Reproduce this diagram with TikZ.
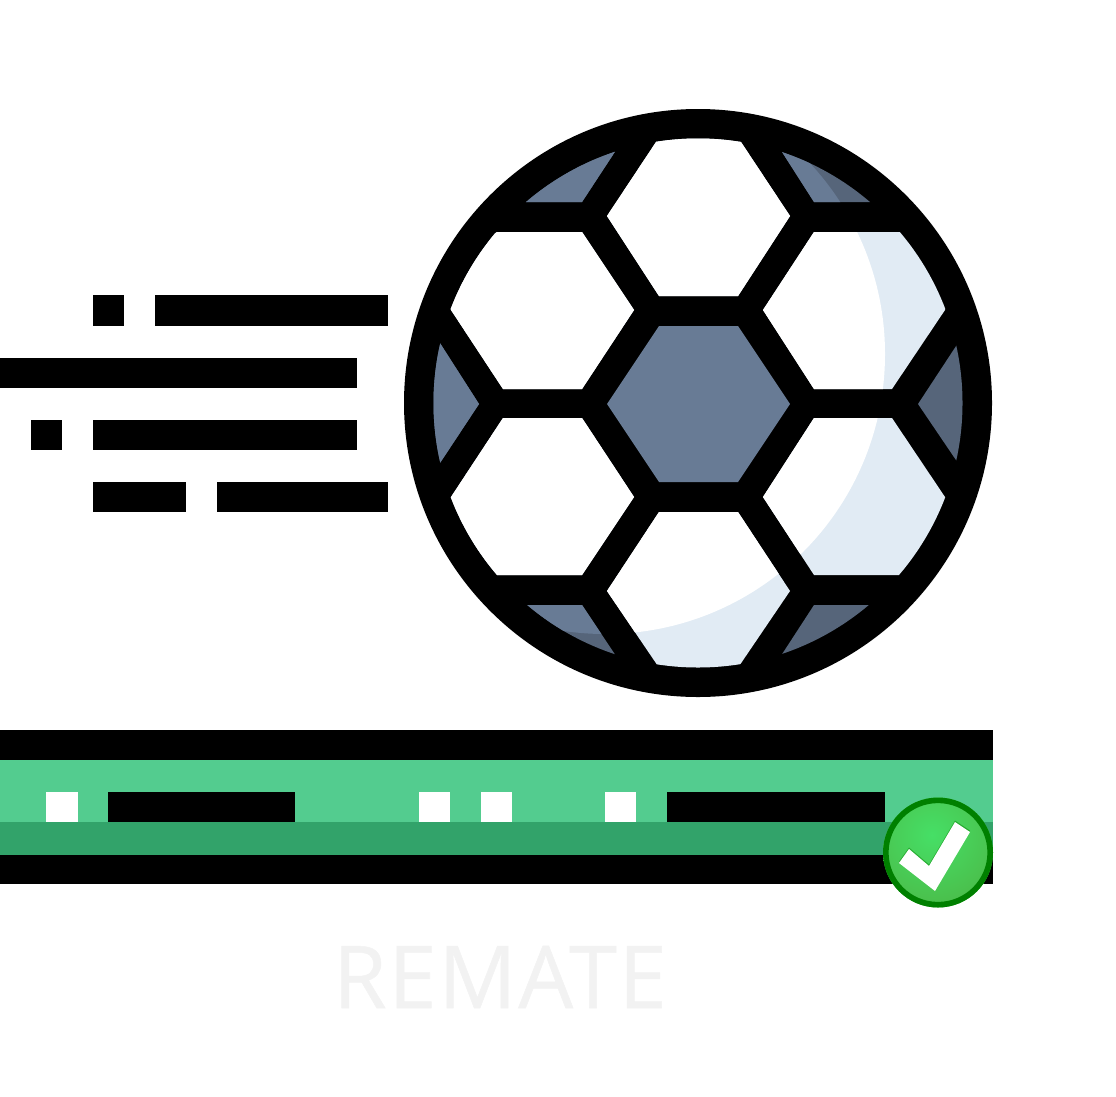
\documentclass[tikz,border=0pt]{standalone}
\usepackage{fontspec}
\setmainfont{Open Sans}
\newfontfamily\capfont[FakeBold=0.6,LetterSpace=2]{Open Sans}
\definecolor{ballblue}{HTML}{687B95}
\definecolor{balldark}{HTML}{56657A}
\definecolor{ballshade}{HTML}{E1EBF4}
\definecolor{bargreen}{HTML}{53CC8F}
\definecolor{bardark}{HTML}{32A36A}
\definecolor{badgeedge}{HTML}{008000}
\definecolor{badgein}{HTML}{46DF66}
\definecolor{badgeout}{HTML}{4DAE3E}
\definecolor{faint}{HTML}{F2F2F2}
\newcommand{\hexes}{%
  (607,216)--(664,130)--(733,130)--(790,216)--(738,296)--(659,296)--cycle
  (634,310)--(582,389)--(503,389)--(451,310)--(440,270)--(497,232)--(582,232)--cycle
  (763,310)--(814,232)--(900,232)--(950,270)--(945,310)--(892,389)--(814,389)--cycle
  (634,497)--(582,575)--(497,575)--(440,540)--(451,497)--(503,418)--(582,418)--cycle
  (763,497)--(814,418)--(892,418)--(945,497)--(950,540)--(900,575)--(814,575)--cycle
  (607,591)--(659,512)--(738,512)--(790,591)--(733,675)--(664,675)--cycle}
\newcommand{\tris}{%
  (622,141)--(582,202)--(515,202)--(560,150)--cycle
  (775,141)--(814,202)--(880,202)--(840,150)--cycle
  (438,340)--(479,404)--(438,466)--(420,404)--cycle
  (960,340)--(918,404)--(960,466)--(975,404)--cycle
  (515,605)--(582,605)--(622,665)--(560,660)--cycle
  (880,605)--(814,605)--(775,665)--(840,660)--cycle}
\tikzset{inkbar/.style={fill=black,draw=none},
  paper/.style={fill=white,draw=none}}
\begin{document}
\begin{tikzpicture}[x=0.75pt,y=-0.75pt]
\useasboundingbox (0,0) rectangle (1116,1096);
% speed lines
\fill[inkbar] (93,295) rectangle (124,326);
\fill[inkbar] (155,295) rectangle (388,326);
\fill[inkbar] (0,358) rectangle (357,388);
\fill[inkbar] (31,420) rectangle (62,450);
\fill[inkbar] (93,420) rectangle (357,450);
\fill[inkbar] (93,482) rectangle (186,512);
\fill[inkbar] (217,482) rectangle (388,512);
% ball
\fill[black] (698,403) circle (294);
\begin{scope}
  \clip (698,403) circle (264.5);
  \fill[ballshade] \hexes;
  \fill[balldark] \tris;
  \begin{scope}
    \clip (605,354) circle (280);
    \fill[white] \hexes;
    \fill[ballblue] \tris;
  \end{scope}
\end{scope}
\fill[ballblue] (607,404)--(659,326)--(738,326)--(790,404)--(738,482)--(659,482)--cycle;
% bar
\fill[inkbar] (0,730) rectangle (993,760);
\fill[bargreen] (0,760) rectangle (993,822);
\fill[bardark] (0,822) rectangle (993,855);
\fill[inkbar] (0,855) rectangle (993,884);
\fill[paper] (46,792) rectangle (78,822);
\fill[paper] (419,792) rectangle (450,822);
\fill[paper] (481,792) rectangle (512,822);
\fill[paper] (605,792) rectangle (636,822);
\fill[inkbar] (108,792) rectangle (295,822);
\fill[inkbar] (667,792) rectangle (885,822);
% badge
\begin{scope}
  \clip (938,852.5) circle (55);
  \shade[inner color=badgein,outer color=badgeout] (932,835) circle (105);
\end{scope}
\draw[badgeedge,line width=4.2pt] (938,852.5) circle (52.2);
\fill[badgeedge,opacity=.45] (899,861.5)--(909,847.5)--(929,864.5)--(955,820.5)--(970,830.5)--(935,889.5)--cycle;
\fill[white] (899,863)--(909,849)--(929,866)--(955,822)--(970,832)--(935,891)--cycle;
% caption
\node[text=faint,inner sep=0pt,font=\capfont\fontsize{65}{65}\selectfont] (caption) at (500,977) {REMATE};
\end{tikzpicture}
\end{document}
